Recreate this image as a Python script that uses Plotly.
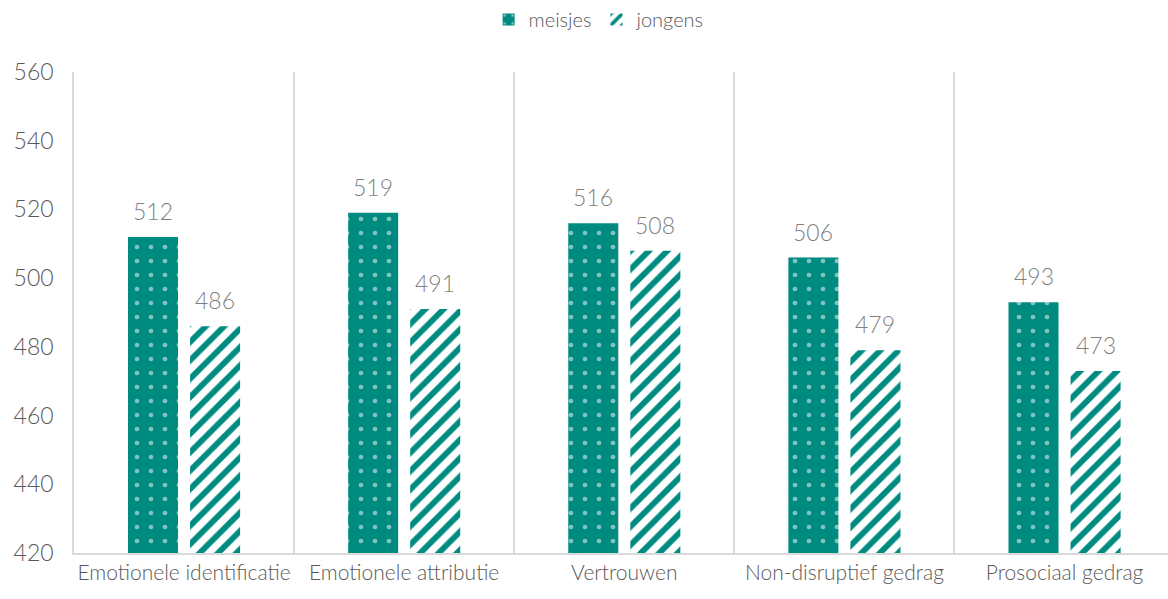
import plotly.graph_objects as go

# Gemiddelde scores per domein, uitgesplitst naar geslacht
categories = [
    "Emotionele identificatie",
    "Emotionele attributie",
    "Vertrouwen",
    "Non-disruptief gedrag",
    "Prosociaal gedrag",
]
meisjes = [512, 519, 516, 506, 493]
jongens = [486, 491, 508, 479, 473]
y_ticks = [420, 440, 460, 480, 500, 520, 540, 560]

TEAL = "#008B80"
GRID = "#D9D9D9"
TEXT = "#595959"
LABEL = "#7F7F7F"
FONT = "Lato"
WEIGHT = 300

fig = go.Figure()
fig.add_trace(go.Bar(
    name="meisjes",
    x=categories,
    y=meisjes,
    marker=dict(
        color=TEAL,
        line=dict(width=0),
        pattern=dict(shape=".", fgcolor="white", size=14, solidity=0.09,
                     fillmode="overlay"),
    ),
))
fig.add_trace(go.Bar(
    name="jongens",
    x=categories,
    y=jongens,
    marker=dict(
        color=TEAL,
        line=dict(width=0),
        pattern=dict(shape="/", fgcolor=TEAL, bgcolor="white", size=13,
                     solidity=0.45, fillmode="replace"),
    ),
))

# Waardelabels boven de staven
for series, shift in ((meisjes, -31), (jongens, 31)):
    for cat, val in zip(categories, series):
        fig.add_annotation(
            x=cat, y=val, text=str(val), showarrow=False,
            xshift=shift, yshift=26, yanchor="middle",
            font=dict(family=FONT, size=23, color=LABEL, weight=WEIGHT),
        )

fig.update_layout(
    width=1168,
    height=599,
    margin=dict(l=74, r=0, t=72, b=46),
    paper_bgcolor="white",
    plot_bgcolor="white",
    barmode="group",
    bargap=0.436,
    bargroupgap=0.194,
    font=dict(family=FONT, color=TEXT, weight=WEIGHT),
    legend=dict(
        orientation="h", x=0.48, xanchor="center", xref="paper",
        y=1.0, yanchor="top", yref="container",
        font=dict(family=FONT, size=20, color=TEXT, weight=WEIGHT),
        itemwidth=30, traceorder="normal",
    ),
    xaxis=dict(
        type="category",
        range=[-0.5, 4.47],
        tickson="boundaries",
        showgrid=True, gridcolor=GRID, gridwidth=1.5,
        showline=True, linecolor=GRID, linewidth=2,
        ticks="", ticklen=0,
        tickangle=0, automargin=False,
        tickfont=dict(family=FONT, size=21, color=TEXT, weight=WEIGHT),
        zeroline=False,
    ),
    yaxis=dict(
        range=[420, 560],
        tickvals=y_ticks,
        ticktext=[str(v) for v in y_ticks],
        showgrid=False, zeroline=False,
        showline=True, linecolor=GRID, linewidth=1.5,
        ticks="outside", ticklen=14, tickcolor="rgba(0,0,0,0)",
        tickfont=dict(family=FONT, size=23, color=TEXT, weight=WEIGHT),
        automargin=False,
    ),
)

fig.write_html("out.html")
